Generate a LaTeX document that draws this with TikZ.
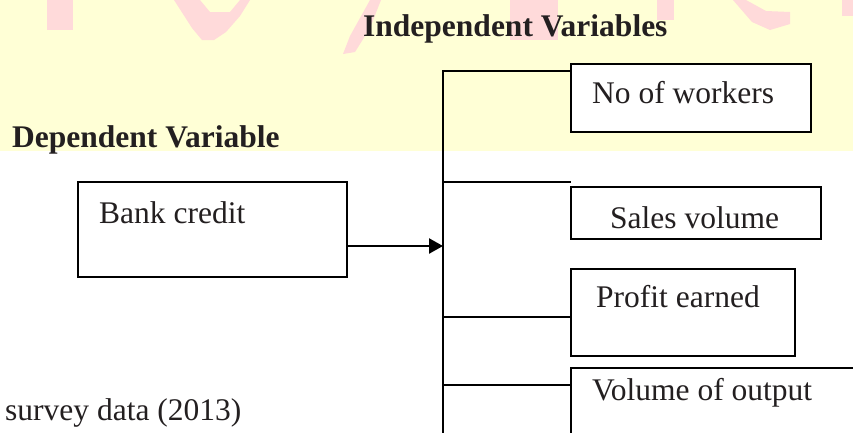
\documentclass[tikz,border=0pt]{standalone}
\usepackage{fontspec}
\setmainfont{Liberation Serif}
\usetikzlibrary{arrows.meta}
\definecolor{band}{HTML}{FFFFD6}
\definecolor{wm}{HTML}{FFDADA}
\definecolor{ink}{HTML}{231F20}
\tikzset{
  box/.style={draw=black, line width=2.4pt, fill=white, inner sep=0pt},
  conn/.style={draw=black, line width=2.4pt},
  reg/.style={anchor=base west, inner sep=0pt, text=ink, font=\fontsize{31.5}{36}\selectfont},
  head/.style={anchor=base west, inner sep=0pt, text=ink, font=\fontsize{31.5}{36}\selectfont\bfseries},
  wmark/.style={fill=wm, draw=none}
}
\begin{document}
\begin{tikzpicture}[x=1pt, y=-1pt]
\useasboundingbox (0,0) rectangle (853,432);
% background band and watermark
\fill[band] (0,0) rectangle (853,151);
\fill[wmark] (47,0) rectangle (73,30);
\fill[wmark] (174,0) -- (200,0) -- (210,12) -- (230,12) -- (240,0) -- (250,0) -- (240,16) -- (226,32) -- (214,40) -- (202,40) -- (192,28) -- cycle;
\fill[wmark] (370,0) -- (381,0) -- (370,28) -- (355,52) -- (343,54) -- (350,36) -- cycle;
\fill[wmark] (510,0) rectangle (558,40);
\fill[wmark] (657,0) rectangle (674,20);
\fill[wmark] (733,0) -- (746,0) -- (766,11) -- (790,12) -- (790,24) -- (770,30) -- (752,22) -- cycle;
\fill[wmark] (842,0) rectangle (853,16);
% headings
\node[head] (indep) at (363,36) {Independent Variables};
\node[head] (dep) at (12,147) {Dependent Variable};
\node[reg] (src) at (5,420) {survey data (2013)};
% boxes
\begin{scope}
\clip (0,0) rectangle (853,432);
\node[box, minimum width=240pt, minimum height=68pt] (nw) at (691,98) {};
\node[box, minimum width=269pt, minimum height=95pt] (bc) at (212.5,229.5) {};
\node[box, minimum width=250pt, minimum height=52pt] (sv) at (696,213) {};
\node[box, minimum width=224pt, minimum height=87pt] (pe) at (683,312.5) {};
\node[box, minimum width=300pt, minimum height=80pt] (vo) at (721,408) {};
\end{scope}
\node[reg] (tnw) at (592,103) {No of workers};
\node[reg] (tbc) at (99,223) {Bank credit};
\node[reg] (tsv) at (610,228) {Sales volume};
\node[reg] (tpe) at (596,307) {Profit earned};
\node[reg] (tvo) at (592,400) {Volume of output};
% connector tree
\coordinate (vtop) at (443,71);
\coordinate (vbot) at (443,432);
\coordinate (h2) at (443,182);
\coordinate (h2end) at (571,182);
\coordinate (h3) at (443,317);
\coordinate (h4) at (443,385);
\coordinate (ah) at (443,246);
\draw[conn, line cap=rect] (vtop) -- (vbot);
\draw[conn] (vtop) -- (vtop -| nw.west);
\draw[conn] (h2) -- (h2end);
\draw[conn] (h3) -- (h3 -| pe.west);
\draw[conn] (h4) -- (h4 -| vo.west);
\draw[conn, -{Triangle[length=14pt, width=15pt]}] (bc.east |- ah) -- (ah);
\end{tikzpicture}
\end{document}
